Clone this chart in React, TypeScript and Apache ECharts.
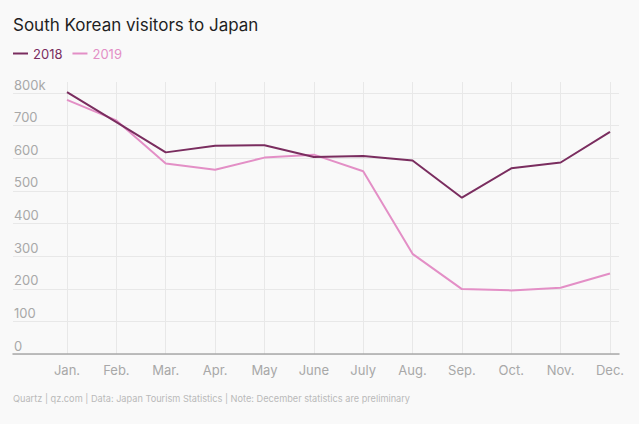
import React, { useEffect, useRef } from "react";
import * as echarts from "echarts";

const months = ["Jan.", "Feb.", "Mar.", "Apr.", "May", "June", "July", "Aug.", "Sep.", "Oct.", "Nov.", "Dec."];
const visitors2018 = [803, 711, 618, 638, 640, 604, 607, 593, 479, 569, 587, 681];
const visitors2019 = [779, 716, 584, 565, 602, 611, 560, 307, 199, 195, 203, 247];
const yTicks = [0, 100, 200, 300, 400, 500, 600, 700, 800];

const C2018 = "#7a2d5f";
const C2019 = "#e38fc6";
const FONT = "Inter, 'Noto Sans', sans-serif";

export default function App() {
  const ref = useRef<HTMLDivElement>(null);
  useEffect(() => {
    if (!ref.current) return;
    const chart = echarts.init(ref.current, null, { renderer: "svg" });
    const yMax = yTicks[yTicks.length - 1];
    const axisBottom = 70;
    const topLine = 93;
    const dataTop = 82;
    const pxPer = (424 - axisBottom - topLine) / yMax;
    const dataMax = (424 - axisBottom - dataTop) / pxPer;
    chart.setOption({
      animation: false,
      backgroundColor: "#f9f9f9",
      textStyle: { fontFamily: FONT },
      title: {
        text: "South Korean visitors to Japan",
        left: 8,
        top: 11,
        textStyle: { fontSize: 17, fontWeight: "normal", color: "#1f1f1f", fontFamily: FONT },
      },
      legend: {
        left: 13,
        top: 47,
        padding: 0,
        icon: "rect",
        itemWidth: 15,
        itemHeight: 2,
        itemGap: 10,
        textStyle: { fontSize: 13, fontFamily: FONT },
        data: [
          { name: "2018", textStyle: { color: C2018 } },
          { name: "2019", textStyle: { color: C2019 } },
        ],
      },
      grid: [
        { left: 13, right: 20, top: topLine, bottom: axisBottom },
        { left: 67, right: 29, top: dataTop, bottom: axisBottom },
      ],
      xAxis: [
        {
          gridIndex: 0,
          type: "value",
          min: 0,
          max: 1,
          axisLine: { show: true, lineStyle: { color: "#a9a9a9", width: 1.5 } },
          axisTick: { show: false },
          axisLabel: { show: false },
          splitLine: { show: false },
        },
        {
          gridIndex: 1,
          type: "category",
          data: months,
          boundaryGap: false,
          axisLine: { show: false },
          axisTick: { show: false },
          axisLabel: { color: "#a8a8a8", fontSize: 13, margin: 9, fontFamily: FONT },
          splitLine: { show: true, lineStyle: { color: "#e8e8e8", width: 1 } },
        },
      ],
      yAxis: [
        {
          gridIndex: 0,
          type: "value",
          min: 0,
          max: yMax,
          interval: 100,
          axisLine: { show: false },
          axisTick: { show: false },
          axisLabel: {
            inside: true,
            margin: 1,
            verticalAlign: "bottom",
            padding: [0, 0, 2, 0],
            color: "#a8a8a8",
            fontSize: 13,
            fontFamily: FONT,
            formatter: (v: number) => (v === yMax ? `${v}k` : `${v}`),
          },
          splitLine: { show: true, lineStyle: { color: "#e8e8e8", width: 1 } },
        },
        {
          gridIndex: 1,
          type: "value",
          min: 0,
          max: dataMax,
          show: false,
          splitLine: { show: false },
        },
      ],
      series: [
        {
          name: "2018",
          type: "line",
          xAxisIndex: 1,
          yAxisIndex: 1,
          data: visitors2018,
          showSymbol: false,
          symbol: "none",
          lineStyle: { color: C2018, width: 2 },
          itemStyle: { color: C2018 },
          z: 3,
        },
        {
          name: "2019",
          type: "line",
          xAxisIndex: 1,
          yAxisIndex: 1,
          data: visitors2019,
          showSymbol: false,
          symbol: "none",
          lineStyle: { color: C2019, width: 2 },
          itemStyle: { color: C2019 },
          z: 2,
        },
      ],
      graphic: [
        {
          type: "text",
          left: 13,
          top: 394,
          style: {
            text: "Quartz | qz.com | Data: Japan Tourism Statistics | Note: December statistics are preliminary",
            fill: "#b9b9b9",
            fontSize: 9.2,
            fontFamily: FONT,
          },
        },
      ],
    });
    return () => chart.dispose();
  }, []);
  return <div ref={ref} style={{ position: "fixed", left: 0, top: 0, width: 639, height: 424 }} />;
}
